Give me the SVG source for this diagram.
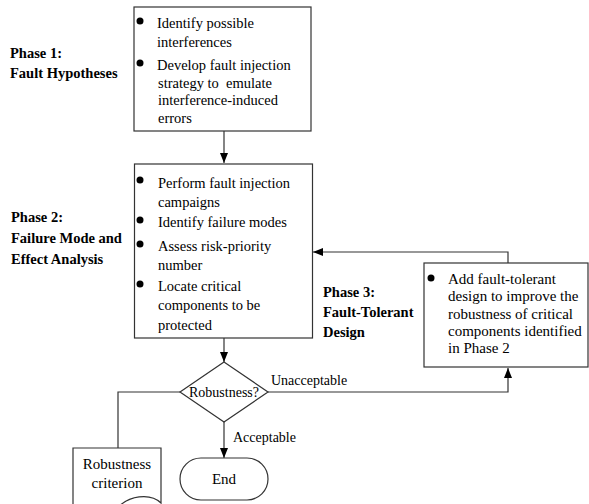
<svg xmlns="http://www.w3.org/2000/svg" width="589" height="504" viewBox="0 0 589 504">
<style>
.t{font-family:"Liberation Serif","Times New Roman",serif;font-size:14.5px;fill:#000}
.b{font-family:"Liberation Serif","Times New Roman",serif;font-size:14.5px;font-weight:bold;fill:#000}
.s{font-family:"Liberation Serif","Times New Roman",serif;font-size:14px;fill:#000}
.box{fill:#fff;stroke:#333;stroke-width:1.2}
.ln{fill:none;stroke:#333;stroke-width:1.2}
</style>
<defs>
<marker id="ah" viewBox="0 0 10 8" refX="10" refY="4" markerWidth="10" markerHeight="8" markerUnits="userSpaceOnUse" orient="auto">
<path d="M0,0 L10,4 L0,8 Z" fill="#000"/>
</marker>
</defs>
<rect width="589" height="504" fill="#fff"/>

<g id="connectors">
<line class="ln" x1="224" y1="131" x2="224" y2="163" marker-end="url(#ah)"/>
<line class="ln" x1="224" y1="338" x2="224" y2="362" marker-end="url(#ah)"/>
<line class="ln" x1="224" y1="422" x2="224" y2="458" marker-end="url(#ah)"/>
<polyline class="ln" points="268,392 508,392 508,368" marker-end="url(#ah)"/>
<polyline class="ln" points="508,263 508,252 313,252" marker-end="url(#ah)"/>
<polyline class="ln" points="180,392 118,392 118,448"/>
</g>

<g id="label-phase1">
<text class="b" x="10" y="58">Phase 1:</text>
<text class="b" x="10" y="78">Fault Hypotheses</text>
</g>
<g id="label-phase2">
<text class="b" x="11" y="222">Phase 2:</text>
<text class="b" x="11" y="243">Failure Mode and</text>
<text class="b" x="11" y="264">Effect Analysis</text>
</g>
<g id="label-phase3">
<text class="b" x="323" y="297">Phase 3:</text>
<text class="b" x="323" y="317">Fault-Tolerant</text>
<text class="b" x="323" y="337">Design</text>
</g>

<g id="box1">
<rect class="box" x="134" y="7" width="177" height="124"/>
<circle cx="140" cy="21" r="3.5" fill="#000"/>
<circle cx="140" cy="63" r="3.5" fill="#000"/>
<text class="t" x="157" y="28">Identify possible</text>
<text class="t" x="157" y="47">interferences</text>
<text class="t" x="157" y="70">Develop fault injection</text>
<text class="t" x="158" y="88" style="white-space:pre">strategy to  emulate</text>
<text class="t" x="158" y="105">interference-induced</text>
<text class="t" x="158" y="123">errors</text>
</g>

<g id="box2">
<rect class="box" x="134.5" y="164" width="178" height="174"/>
<circle cx="140" cy="180" r="3.5" fill="#000"/>
<circle cx="140" cy="220" r="3.5" fill="#000"/>
<circle cx="140" cy="244" r="3.5" fill="#000"/>
<circle cx="140" cy="284" r="3.5" fill="#000"/>
<text class="t" x="158" y="188">Perform fault injection</text>
<text class="t" x="158" y="207">campaigns</text>
<text class="t" x="158" y="227">Identify failure modes</text>
<text class="t" x="158" y="251">Assess risk-priority</text>
<text class="t" x="158" y="270">number</text>
<text class="t" x="158" y="291">Locate critical</text>
<text class="t" x="158" y="310">components to be</text>
<text class="t" x="158" y="330">protected</text>
</g>

<g id="box3">
<rect class="box" x="424" y="263" width="164" height="104"/>
<circle cx="431" cy="278" r="3.5" fill="#000"/>
<text class="t" x="448" y="284" style="font-size:15px">Add fault-tolerant</text>
<text class="t" x="448" y="301" style="font-size:15px">design to improve the</text>
<text class="t" x="448" y="318.5" style="font-size:15px">robustness of critical</text>
<text class="t" x="448" y="336" style="font-size:15px">components identified</text>
<text class="t" x="448" y="353" style="font-size:15px">in Phase 2</text>
</g>

<g id="decision">
<polygon class="box" points="224,362 268,392 224,422 180,392"/>
<text class="s" x="224" y="397" text-anchor="middle">Robustness?</text>
</g>
<g id="edge-labels">
<text class="s" x="271" y="385">Unacceptable</text>
<text class="s" x="233" y="442">Acceptable</text>
</g>

<g id="end">
<rect class="box" x="180" y="458" width="88" height="42" rx="21" ry="21"/>
<text class="s" x="224" y="484" text-anchor="middle" style="font-size:15px">End</text>
</g>

<g id="criterion">
<path class="box" d="M73,514 V448 H161 V503 C152,494 128,492 112,514 Z"/>
<text class="s" x="117" y="469" text-anchor="middle" style="font-size:15px">Robustness</text>
<text class="s" x="117" y="488" text-anchor="middle" style="font-size:15px">criterion</text>
</g>
</svg>
